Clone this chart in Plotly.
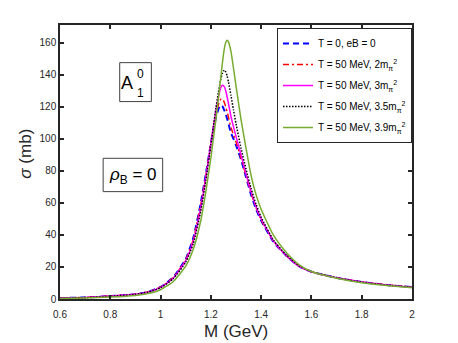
import plotly.graph_objects as go

M = [0.6, 0.7, 0.8, 0.9, 0.95, 1.0, 1.05, 1.1, 1.13, 1.16, 1.18, 1.2, 1.21, 1.22, 1.23, 1.235,
     1.24, 1.245, 1.25, 1.255, 1.26, 1.265, 1.27, 1.28, 1.29, 1.30, 1.32, 1.34, 1.36, 1.38,
     1.40, 1.45, 1.5, 1.55, 1.6, 1.7, 1.8, 1.9, 2.0]

sigma_T0 = [0.6, 1.0, 1.8, 3.0, 4.4, 7.5, 13.5, 25, 38, 60, 78, 97, 106, 113, 118.5, 120.3,
            121, 120.5, 119, 117.2, 115, 112.3, 109.5, 103.5, 100, 96, 87, 76, 65, 56,
            49, 35.5, 27, 20.5, 17, 13.2, 10.6, 8.8, 7.4]
sigma_2m = [0.6, 1.0, 1.8, 3.0, 4.4, 7.4, 13.3, 24.5, 37, 59, 77, 97, 106.5, 115, 121, 123.5,
            124.8, 125, 124, 122, 119.5, 116.5, 113.5, 107, 102.5, 98, 88, 77, 66, 57,
            49.5, 36, 27, 20.5, 17, 13.2, 10.6, 8.8, 7.4]
sigma_3m = [0.6, 1.0, 1.8, 3.0, 4.3, 7.2, 13.0, 24, 36, 57, 76, 97, 107.5, 117.5, 126, 129.5,
            132, 133.3, 133.2, 132, 129.5, 126, 122, 114, 107.5, 101.5, 90, 78, 67, 57.5,
            50, 36, 27, 20.5, 17, 13.2, 10.6, 8.8, 7.4]
sigma_35m = [0.5, 0.9, 1.7, 2.9, 4.2, 7.0, 12.6, 23, 34.5, 55, 74, 96, 107.5, 119, 129, 133.5,
             137.5, 140.5, 142.3, 142.8, 141.5, 139, 135.5, 127, 118, 109.5, 94, 81, 69, 59,
             51, 36.5, 27.5, 20.8, 17.1, 13.2, 10.5, 8.7, 7.3]
sigma_39m = [0.3, 0.6, 1.2, 2.2, 3.4, 5.8, 10.8, 20.5, 31, 49, 67, 88, 100, 112, 125, 132,
             139, 146, 152.5, 157.5, 160.5, 161.5, 160.5, 154.5, 144, 133, 112, 94, 77, 65,
             56, 39.5, 29, 21.5, 17.2, 13.0, 10.2, 8.4, 7.0]

names = ["T = 0, eB = 0",
         "T = 50 MeV, 2m<sub>π</sub><sup>2</sup>",
         "T = 50 MeV, 3m<sub>π</sub><sup>2</sup>",
         "T = 50 MeV, 3.5m<sub>π</sub><sup>2</sup>",
         "T = 50 MeV, 3.9m<sub>π</sub><sup>2</sup>"]

xticks = [0.6, 0.8, 1.0, 1.2, 1.4, 1.6, 1.8, 2.0]
xticklabels = ["0.6", "0.8", "1", "1.2", "1.4", "1.6", "1.8", "2"]
yticks = [0, 20, 40, 60, 80, 100, 120, 140, 160]

styles = [
    dict(color="#0000FF", width=2, dash="6px,4px"),
    dict(color="#FF0000", width=1.4, dash="6px,3px,2px,3px"),
    dict(color="#FF00FF", width=1.5, dash="solid"),
    dict(color="#000000", width=1.5, dash="1.5px,1.5px"),
    dict(color="#77AC30", width=1.5, dash="solid"),
]
series = [sigma_T0, sigma_2m, sigma_3m, sigma_35m, sigma_39m]

fig = go.Figure()
for i, (ys, st, nm) in enumerate(zip(series, styles, names)):
    fig.add_trace(go.Scatter(x=M, y=ys, mode="lines", name=nm, legendgroup=f"g{i}",
                             line=dict(shape="spline", smoothing=0.5, **st)))

font = "Liberation Sans, Arial, Helvetica, sans-serif"
axcol = "#262626"

# page body has an 8px margin: figure is 8px smaller and shifted accordingly
fig.update_layout(
    width=450, height=335,
    margin=dict(l=52, r=46, t=17, b=44),
    paper_bgcolor="white", plot_bgcolor="white",
    font=dict(family=font, color=axcol, size=10),
    showlegend=True,
    legend=dict(x=1, xanchor="right", y=0.989, yanchor="top",
                bgcolor="white", bordercolor=axcol, borderwidth=1,
                font=dict(size=10, color="black"), tracegroupgap=2,
                itemwidth=30),
    xaxis=dict(range=[0.6, 2.0], tickvals=xticks, ticktext=xticklabels,
               ticks="inside", ticklen=4, tickwidth=1.5, tickcolor=axcol,
               showline=True, linecolor=axcol, linewidth=1.5, mirror="ticks",
               showgrid=False, zeroline=False, ticklabelstandoff=5, automargin=False,
               tickfont=dict(size=10, color=axcol)),
    yaxis=dict(range=[0, 171], tickvals=yticks, automargin=False,
               ticks="inside", ticklen=4, tickwidth=1.5, tickcolor=axcol,
               showline=True, linecolor=axcol, linewidth=1.5, mirror="ticks",
               showgrid=False, zeroline=False,
               tickfont=dict(size=10, color=axcol)),
)

# axis titles
fig.add_annotation(xref="paper", yref="paper", x=0.5, y=-0.119,
                   text="M (GeV)", showarrow=False,
                   font=dict(size=17, color=axcol), xanchor="center", yanchor="middle")
fig.add_annotation(xref="paper", yref="paper", x=-0.097, y=0.53,
                   text="<i>σ</i> (mb)", showarrow=False, textangle=-90,
                   font=dict(size=17, color=axcol), xanchor="center", yanchor="middle")

# A1^0 box
fig.add_shape(type="rect", xref="x", yref="y", x0=0.8375, x1=0.9634, y0=123.2, y1=147.5,
              line=dict(color="#404040", width=1), fillcolor="white", layer="above")
fig.add_annotation(xref="x", yref="y", x=0.868, y=135.0, text="A", showarrow=False,
                   font=dict(size=18, color="black"), xanchor="center", yanchor="middle")
fig.add_annotation(xref="x", yref="y", x=0.92, y=140.2, text="0", showarrow=False,
                   font=dict(size=12, color="black"), xanchor="center", yanchor="middle")
fig.add_annotation(xref="x", yref="y", x=0.92, y=128.8, text="1", showarrow=False,
                   font=dict(size=12, color="black"), xanchor="center", yanchor="middle")

# rho_B = 0 box
fig.add_shape(type="rect", xref="x", yref="y", x0=0.7716, x1=1.0083, y0=67.0, y1=87.8,
              line=dict(color="#404040", width=1), fillcolor="white", layer="above")
fig.add_annotation(xref="x", yref="y", x=0.889, y=76.5,
                   text="<i>ρ</i><sub>B</sub> = 0", showarrow=False,
                   font=dict(size=17, color="black"), xanchor="center", yanchor="middle")

fig.write_html("out.html")
